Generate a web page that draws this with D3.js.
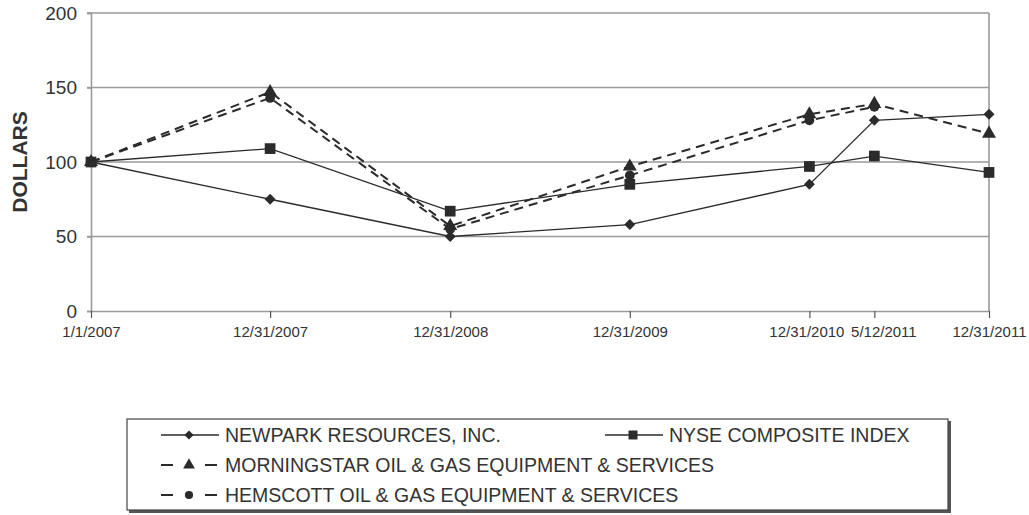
<!DOCTYPE html>
<html><head><meta charset="utf-8">
<script src="https://cdn.jsdelivr.net/npm/d3@7"></script>
<style>
html,body{margin:0;padding:0;background:#fff;}
text{font-family:"Liberation Sans",Arial,sans-serif;}
</style></head>
<body><svg id="c" width="1029" height="515"></svg>
<script>
const dates = ["1/1/2007","12/31/2007","12/31/2008","12/31/2009","12/31/2010","5/12/2011","12/31/2011"];
const newpark = [100, 75, 50, 58, 85, 128, 132];
const nyse = [100, 109, 67, 85, 97, 104, 93];
const morningstar = [100, 147, 57, 97, 132, 139, 119];
const hemscott = [100, 143, 55, 91, 128, 137, null];
const yTicks = [0, 50, 100, 150, 200];
const seriesNames = ["NEWPARK RESOURCES, INC.","NYSE COMPOSITE INDEX","MORNINGSTAR OIL & GAS EQUIPMENT & SERVICES","HEMSCOTT OIL & GAS EQUIPMENT & SERVICES"];

const parse = d3.timeParse("%m/%d/%Y");
const dt = dates.map(parse);
const svg = d3.select("#c");
const L = 91, R = 989, T = 13, B = 311;
const x = d3.scaleTime().domain([dt[0], dt[dt.length-1]]).range([L, R]);
const y = d3.scaleLinear().domain([0, 200]).range([B, T]);
const grid = "#9a9a9a", ink = "#2b2b2b";

// gridlines
svg.append("g").selectAll("line").data(yTicks.filter(v=>v>0)).join("line")
  .attr("x1", L-4).attr("x2", R).attr("y1", d=>y(d)).attr("y2", d=>y(d))
  .attr("stroke", grid).attr("stroke-width", 1.6);
// right border
svg.append("line").attr("x1",R).attr("x2",R).attr("y1",T).attr("y2",B).attr("stroke",grid).attr("stroke-width",1.6);

// y axis
const ya = svg.append("g").attr("transform",`translate(${L},0)`)
  .call(d3.axisLeft(y).tickValues(yTicks).tickSize(4).tickPadding(10));
ya.select(".domain").attr("stroke", grid).attr("stroke-width",1.6);
ya.selectAll(".tick line").attr("stroke", grid).attr("stroke-width",1.6);
ya.selectAll("text").attr("font-size",19).attr("fill","#333").attr("font-family","Liberation Sans, Arial, sans-serif");

// x axis
const xa = svg.append("g").attr("transform",`translate(0,${B})`)
  .call(d3.axisBottom(x).tickValues(dt).tickFormat((d,i)=>dates[i]).tickSize(7).tickSizeOuter(0).tickPadding(8));
xa.select(".domain").attr("stroke", grid).attr("stroke-width",1.6);
xa.selectAll(".tick line").attr("stroke", "#555").attr("stroke-width",1.2);
xa.selectAll("text").attr("font-size",15).attr("fill","#333").attr("font-family","Liberation Sans, Arial, sans-serif")
  .attr("dx", (d,i)=> i===5 ? 9 : (i===4 ? -3 : 0));

// y label
svg.append("text").attr("transform",`translate(27,${(T+B)/2}) rotate(-90)`)
  .attr("text-anchor","middle").attr("font-size",21).attr("font-weight","bold").attr("fill","#333").text("DOLLARS");

const series = [
  {vals:newpark, dash:null, sym:d3.symbolSquare, size:60, rot:45},
  {vals:nyse, dash:null, sym:d3.symbolSquare, size:115, rot:0},
  {vals:morningstar, dash:"9,6", sym:d3.symbolTriangle, size:85, rot:0},
  {vals:hemscott, dash:"9,6", sym:d3.symbolCircle, size:75, rot:0}
];
const line = d3.line().defined(d=>d.v!=null).x(d=>x(d.d)).y(d=>y(d.v));
series.forEach(s=>{
  const pts = s.vals.map((v,i)=>({d:dt[i], v}));
  svg.append("path").datum(pts).attr("d", line).attr("fill","none")
    .attr("stroke", ink).attr("stroke-width", s.dash?2:1.3)
    .attr("stroke-dasharray", s.dash);
  svg.append("g").selectAll("path").data(pts.filter(p=>p.v!=null)).join("path")
    .attr("transform", p=>`translate(${x(p.d)},${y(p.v)}) rotate(${s.rot})`)
    .attr("d", d3.symbol(s.sym, s.size)).attr("fill", ink);
});

// legend
const lg = svg.append("g");
lg.append("rect").attr("x",129).attr("y",421).attr("width",822).attr("height",92).attr("fill","#555");
lg.append("rect").attr("x",127).attr("y",419).attr("width",821).attr("height",91).attr("fill","#fff").attr("stroke","#444").attr("stroke-width",1.2);
const legPos = [[161,435],[605,435],[161,465],[161,495]];
series.forEach((s,i)=>{
  const [lx,ly] = legPos[i];
  const g = lg.append("g");
  if (s.dash) {
    g.append("line").attr("x1",lx).attr("x2",lx+12).attr("y1",ly).attr("y2",ly).attr("stroke",ink).attr("stroke-width",2);
    g.append("line").attr("x1",lx+44).attr("x2",lx+56).attr("y1",ly).attr("y2",ly).attr("stroke",ink).attr("stroke-width",2);
  } else {
    g.append("line").attr("x1",lx).attr("x2",lx+58).attr("y1",ly).attr("y2",ly).attr("stroke",ink).attr("stroke-width",1.3);
  }
  g.append("path").attr("transform",`translate(${lx+28},${ly}) rotate(${s.rot})`).attr("d", d3.symbol(s.sym, s.size*0.7)).attr("fill", ink);
  g.append("text").attr("x", lx+64).attr("y", ly).attr("dy","0.36em").attr("font-size",19.5).attr("fill","#333").text(seriesNames[i]);
});
</script></body></html>
